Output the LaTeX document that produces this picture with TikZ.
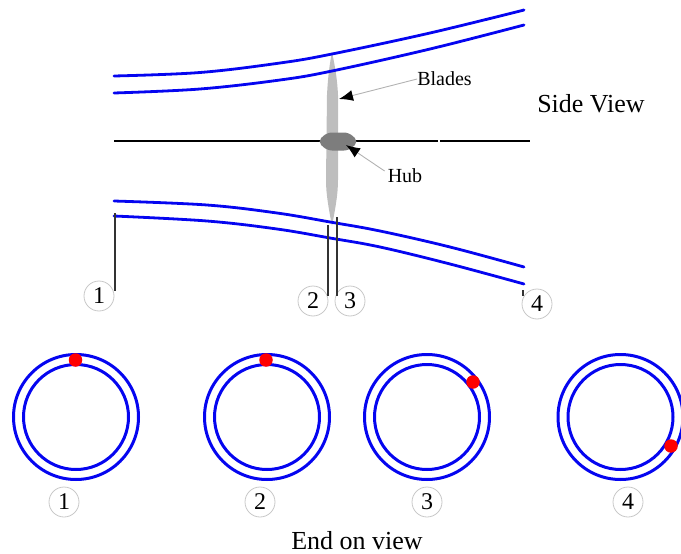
\documentclass[tikz,border=0pt]{standalone}
\usepackage{fontspec}
\setmainfont{Liberation Serif}
\usetikzlibrary{arrows.meta}
\definecolor{ductblue}{RGB}{5,5,240}
\definecolor{bladegray}{RGB}{190,190,190}
\definecolor{hubgray}{RGB}{125,125,125}
\definecolor{ringgray}{RGB}{200,200,200}
\tikzset{
  duct/.style={draw=ductblue,line width=2.8pt,line cap=round},
  ring/.style={draw=ductblue,line width=3pt},
  dot/.style={circle,fill=red,inner sep=0pt,minimum size=13.5pt},
  num/.style={circle,draw=ringgray,line width=0.8pt,fill=white,inner sep=0pt,minimum size=30pt,font=\fontsize{24}{28}\selectfont},
  lead/.style={draw=black!80,line width=2pt},
  callout/.style={draw=black!30,line width=0.9pt,-{Latex[black,length=14pt,width=11pt]}},
  small/.style={font=\fontsize{20}{24}\selectfont,inner sep=0pt,fill=white},
  big/.style={font=\fontsize{26}{30}\selectfont,inner sep=0pt}
}
\begin{document}
\begin{tikzpicture}[x=1pt,y=-1pt]
\useasboundingbox (0,0) rectangle (681,554);
% axis
\coordinate (axL) at (114,141);
\coordinate (axG1) at (437.5,141);
\coordinate (axG2) at (440,141);
\coordinate (axR) at (530,141);
\draw[black,line width=1.8pt] (axL) -- (axG1) (axG2) -- (axR);
% blades and hub
\fill[bladegray] (332,52) .. controls (334,62) and (337,75) .. (338,95)
  -- (338,180) .. controls (338,195) and (335,210) .. (332,226)
  .. controls (329,210) and (326,195) .. (326,180)
  -- (327,95) .. controls (328,75) and (330,62) .. (332,52) -- cycle;
\fill[hubgray,rounded corners=5pt] (327,132.5) -- (349,132.5) -- (358.5,141.5) -- (349,150.5) -- (327,150.5) -- (317.5,141.5) -- cycle;
% duct
\draw[duct] plot[smooth,tension=0.6] coordinates {(114,76) (200,72.5) (280,63) (332,54) (430,33) (524,10)};
\draw[duct] plot[smooth,tension=0.6] coordinates {(114,93) (200,89) (280,80) (332,71) (430,49) (524,25)};
\draw[duct] plot[smooth,tension=0.6] coordinates {(114,201) (207,205) (277,213) (330,222) (380,231) (450,247) (524,267)};
\draw[duct] plot[smooth,tension=0.6] coordinates {(114,216) (207,221) (277,229) (330,238) (380,247) (450,264) (524,284)};
% station labels side view
\node[num] (s1) at (99,296) {1};
\node[num] (s2) at (313,301) {2};
\node[num] (s3) at (350,301) {3};
\node[num] (s4) at (537,304) {4};
\coordinate (t1) at (114.5,213);
\coordinate (b1) at (114.5,291);
\coordinate (t2) at (328,225);
\coordinate (b2) at (328,296);
\coordinate (t3) at (337,217);
\coordinate (b3) at (337,296);
\coordinate (t4) at (523,290);
\coordinate (b4) at (523,296);
\draw[lead] (t1) -- (b1);
\draw[lead] (t2) -- (b2);
\draw[lead] (t3) -- (b3);
\draw[lead] (t4) -- (b4);
% callouts
\node[small] (blades) at (444.5,79) {Blades};
\node[small] (hub) at (405,176) {Hub};
\coordinate (bladeTip) at (339,99);
\coordinate (hubTip) at (346,145);
\draw[callout] (blades.west) -- (bladeTip);
\draw[callout] (hub.west) ++(-3,-5) coordinate (hubStart) (hubStart) -- (hubTip);
\node[big] (side) at (591,104) {Side View};
% end views
\foreach \n/\x/\dx/\dy/\lx in {1/76/75.5/360/64, 2/267/266/360/260, 3/427/473/382/427, 4/620.5/671/446/628}{
  \node[circle,ring,inner sep=0pt,minimum size=125pt] (outer\n) at (\x,417) {};
  \node[circle,ring,inner sep=0pt,minimum size=105pt] (inner\n) at (\x,417) {};
  \node[dot] (dot\n) at (\dx,\dy) {};
  \node[num] (e\n) at (\lx,502) {\n};
}
\node[big] (end) at (357,541) {End on view};
\end{tikzpicture}
\end{document}
